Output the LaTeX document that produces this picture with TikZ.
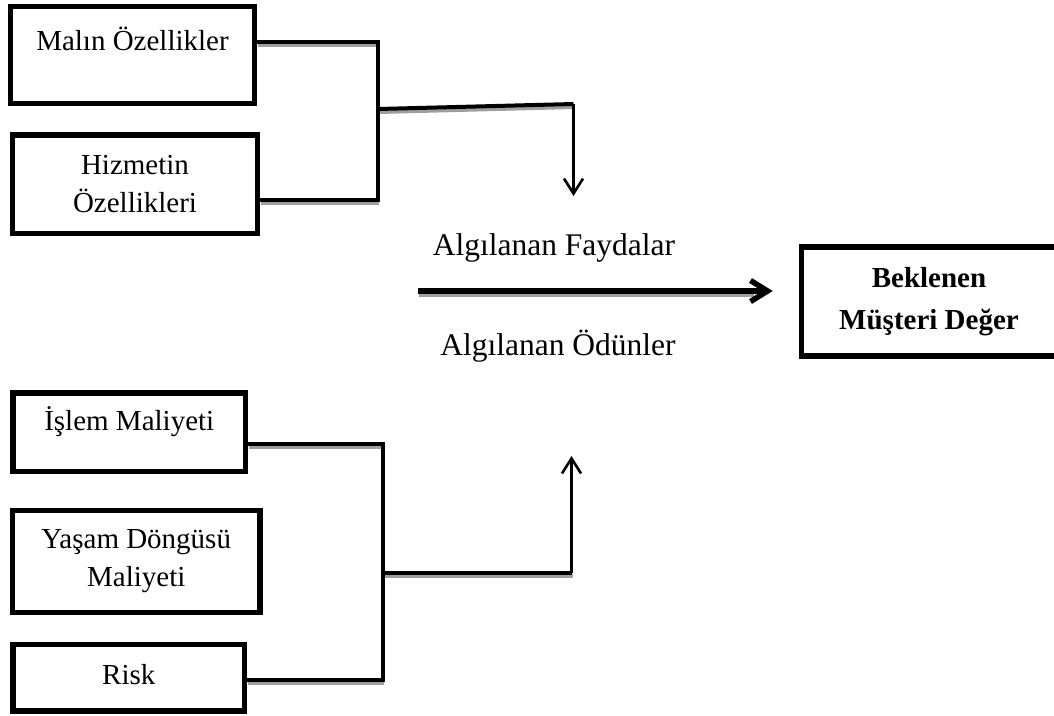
\documentclass[tikz,border=0pt]{standalone}
\usepackage{fontspec}
\setmainfont{Liberation Serif}
\usetikzlibrary{arrows.meta}
\begin{document}
\begin{tikzpicture}[x=1pt,y=-1pt,
  box/.style={draw=black, line width=5.5pt, rectangle, inner sep=0pt,
    align=center, font=\fontsize{29}{38}\selectfont},
  wire/.style={draw=black, line width=4pt, line join=miter},
  shade/.style={draw=black!38, line width=4pt,
    transform canvas={xshift=1pt,yshift=-3pt}},
  thinarrow/.style={draw=black, line width=2.6pt,
    -{Straight Barb[length=15pt,width=19pt]}},
  bigarrow/.style={draw=black, line width=5.5pt,
    -{Straight Barb[length=17pt,width=21pt]}},
  lab/.style={font=\fontsize{31.5}{38}\selectfont, inner sep=0pt}
]
\useasboundingbox (0,0) rectangle (1054,715);
\clip (0,0) rectangle (1054,715);

% benefit side
\node[box, minimum width=244pt, minimum height=97pt,
  text height=20pt, text depth=28.6pt] (b1) at (132.5,55) {Malın Özellikler};
\node[box, minimum width=245pt, minimum height=98.5pt] (b2) at (135,184.25)
  {Hizmetin\\Özellikleri};

% cost side
\node[box, minimum width=232.5pt, minimum height=78.5pt,
  text height=20pt, text depth=24.5pt] (b3) at (129.25,432.25) {İşlem Maliyeti};
\node[box, minimum width=247.5pt, minimum height=102pt] (b4) at (136.25,561.5)
  {Yaşam Döngüsü\\Maliyeti};
\node[box, minimum width=231.5pt, minimum height=66.5pt,
  text height=20pt, text depth=7.5pt] (b5) at (128.75,677.75) {Risk};

% result
\node[box, minimum width=255pt, minimum height=109pt,
  font=\fontsize{29}{41.7}\selectfont\bfseries] (goal) at (929,301.5)
  {Beklenen\\Müşteri Değer};

% middle labels
\node[lab, anchor=base] (fay) at (554,255) {Algılanan Faydalar};
\node[lab, anchor=base] (odn) at (558,355) {Algılanan Ödünler};

% junction points
\coordinate (t1) at (378,41.7);
\coordinate (t2) at (378,199.5);
\coordinate (tb) at (378,109);
\coordinate (tc) at (573.5,104);
\coordinate (ta) at (573.5,196);

\coordinate (u1) at (383,444);
\coordinate (u2) at (383,679.7);
\coordinate (ub) at (383,573.3);
\coordinate (uc) at (571.5,573.3);
\coordinate (ua) at (571.5,456);

\coordinate (m0) at (418,291);

% shadows under the horizontal wires
\draw[shade] (b1.east |- t1) -- (t1);
\draw[shade] (b2.east |- t2) -- (t2);
\draw[shade] (tb) -- (tc);
\draw[shade] (b3.east |- u1) -- (u1);
\draw[shade] (b5.east |- u2) -- (u2);
\draw[shade] (ub) -- (uc);
\draw[shade, line width=5.5pt] (m0) -- ++(335,0);

% upper bracket
\draw[wire] (b1.east |- t1) -- (t1) -- (t2) -- (b2.east |- t2);
\draw[wire] (tb) -- (tc);
\draw[thinarrow] (tc) -- (ta);

% lower bracket
\draw[wire] (b3.east |- u1) -- (u1) -- (u2) -- (b5.east |- u2);
\draw[wire] (ub) -- (uc);
\draw[thinarrow] (uc) -- (ua);

% main arrow
\draw[bigarrow, shorten >=26pt] (m0) -- (m0 -| goal.west);
\end{tikzpicture}
\end{document}
